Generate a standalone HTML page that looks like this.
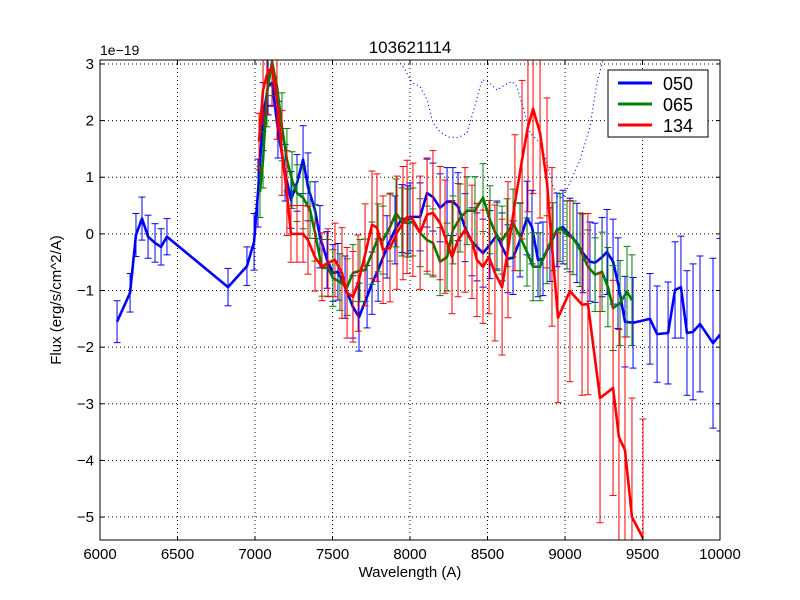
<!DOCTYPE html>
<html><head><meta charset="utf-8"><style>
html,body{margin:0;padding:0;background:#fff;width:800px;height:600px;overflow:hidden}
svg{display:block;font-family:"Liberation Sans","DejaVu Sans",sans-serif}
</style></head><body>
<svg id="chart" width="800" height="600" viewBox="0 0 800 600" xmlns="http://www.w3.org/2000/svg">
<rect x="0" y="0" width="800" height="600" fill="#fff"/>
<defs><clipPath id="plotclip"><rect x="100" y="60" width="620" height="480"/></clipPath></defs>
<g id="grid"></g>
<g id="series" clip-path="url(#plotclip)"></g>
<rect x="100" y="60" width="620" height="480" fill="none" stroke="#000" stroke-width="1"/>
<g id="axes"></g>
<text x="410" y="53" text-anchor="middle" font-size="17">103621114</text>
<text x="100" y="55" font-size="14">1e−19</text>
<text x="410" y="577" text-anchor="middle" font-size="15">Wavelength (A)</text>
<text transform="translate(61,300) rotate(-90)" text-anchor="middle" font-size="15">Flux (erg/s/cm^2/A)</text>
<g>
<rect x="608" y="70" width="100" height="67" fill="#fff" stroke="#000" stroke-width="1"/>
<line x1="618" y1="83" x2="652" y2="83" stroke="#0000ff" stroke-width="3"/>
<text x="663" y="90" font-size="18">050</text>
<line x1="618" y1="104" x2="652" y2="104" stroke="#008000" stroke-width="3"/>
<text x="663" y="111" font-size="18">065</text>
<line x1="618" y1="125" x2="652" y2="125" stroke="#ff0000" stroke-width="3"/>
<text x="663" y="132" font-size="18">134</text>
</g>
</svg>
<script>
const xTicks=[6000,6500,7000,7500,8000,8500,9000,9500,10000];
const yTicks=[3,2,1,0,-1,-2,-3,-4,-5];
const yTickLabels=["3","2","1","0","−1","−2","−3","−4","−5"];

const blueWave=[6110,6194,6232,6271,6310,6355,6394,6432,6826,6948,6994,7019,7052,7084,7110,7148,7194,7232,7271,7310,7342,7387,7419,7465,7503,7535,7581,7632,7671,7723,7755,7794,7852,7903,7948,7987,8000,8065,8110,8148,8194,8239,8277,8310,8355,8400,8432,8471,8516,8561,8594,8632,8665,8710,8755,8787,8826,8858,8903,8948,8987,9032,9077,9116,9161,9194,9239,9271,9310,9342,9387,9439,9548,9594,9665,9710,9748,9787,9826,9871,9955,10000];
const blueFlux=[-1.55,-1.04,-0.02,0.27,-0.05,-0.16,-0.23,-0.05,-0.94,-0.57,-0.14,0.72,2.07,2.6,2.67,1.84,1.08,0.6,0.9,1.31,0.83,0.42,-0.05,-0.46,-0.69,-0.67,-0.94,-1.29,-1.47,-1.11,-0.87,-0.64,-0.23,0.07,0.27,0.25,0.3,0.3,0.72,0.65,0.46,0.57,0.57,0.48,0.11,-0.14,-0.23,-0.34,-0.19,-0.02,-0.23,-0.44,-0.42,-0.11,0.28,0.12,-0.46,-0.44,-0.19,0.07,0.12,-0.02,-0.16,-0.34,-0.49,-0.51,-0.41,-0.32,-0.49,-0.87,-1.55,-1.57,-1.5,-1.77,-1.75,-0.99,-0.94,-1.75,-1.73,-1.59,-1.93,-1.78];
const blueErr=[0.37,0.34,0.38,0.38,0.38,0.34,0.32,0.32,0.33,0.34,0.5,0.6,0.6,0.5,0.4,0.5,0.5,0.5,0.5,0.6,0.6,0.5,0.55,0.5,0.5,0.5,0.55,0.55,0.6,0.55,0.55,0.55,0.55,0.6,0.6,0.6,0.6,0.6,0.6,0.6,0.6,0.6,0.6,0.6,0.6,0.6,0.6,0.6,0.6,0.6,0.6,0.6,0.65,0.65,0.65,0.65,0.65,0.65,0.65,0.65,0.65,0.65,0.7,0.7,0.7,0.7,0.7,0.75,0.75,0.8,0.8,0.8,0.8,0.85,0.9,0.85,0.9,1.1,1.2,1.2,1.5,1.7];

const greenWave=[7032,7052,7077,7110,7142,7174,7206,7239,7271,7310,7355,7387,7432,7471,7503,7548,7594,7632,7677,7710,7755,7794,7826,7871,7910,7948,7987,8019,8065,8110,8148,8194,8239,8277,8323,8368,8419,8471,8516,8561,8594,8626,8665,8710,8755,8794,8839,8884,8923,8968,9013,9052,9097,9148,9194,9239,9277,9310,9355,9400,9432];
const greenFlux=[0.74,1.31,2.49,3.04,2.6,1.89,1.31,0.95,0.72,0.64,0.42,0.02,-0.6,-0.6,-0.78,-0.85,-0.94,-0.69,-0.65,-0.64,-0.34,-0.07,-0.11,0.12,0.37,0.21,0.19,0.21,0.02,-0.11,-0.16,-0.49,-0.41,0.07,0.28,0.41,0.41,0.64,0.25,-0.05,-0.11,0.02,0.19,-0.05,-0.32,-0.58,-0.58,-0.28,-0.05,0.11,-0.02,-0.07,-0.28,-0.58,-0.72,-0.67,-0.94,-1.31,-1.22,-1.02,-1.17];
const greenErr=[0.45,0.5,0.6,0.6,0.6,0.6,0.55,0.5,0.5,0.55,0.5,0.5,0.5,0.5,0.5,0.5,0.5,0.5,0.55,0.55,0.55,0.6,0.6,0.6,0.6,0.6,0.6,0.6,0.6,0.6,0.6,0.6,0.6,0.6,0.6,0.6,0.6,0.6,0.6,0.6,0.6,0.6,0.6,0.6,0.6,0.6,0.6,0.6,0.6,0.6,0.6,0.65,0.65,0.65,0.65,0.7,0.7,0.75,0.75,0.8,0.8];

const redWave=[7026,7052,7077,7110,7142,7174,7206,7232,7271,7310,7342,7387,7432,7471,7516,7561,7594,7632,7665,7710,7755,7787,7826,7871,7916,7955,7981,8019,8065,8110,8148,8194,8226,8271,8310,8355,8400,8432,8471,8510,8548,8594,8632,8677,8723,8761,8794,8839,8884,8916,8955,9032,9110,9148,9226,9310,9348,9387,9432,9503];
const redFlux=[1.63,2.54,2.81,2.95,2.37,1.43,0.72,0,0,0,-0.11,-0.41,-0.58,-0.51,-0.46,-0.69,-1.04,-1.11,-0.87,-0.37,0.16,0.11,-0.28,-0.25,0.02,0.19,0.3,0.25,0.02,0.34,0.37,0.19,-0.05,-0.41,-0.11,0.07,-0.14,-0.46,-0.58,-0.41,-0.69,-0.94,-0.28,0.55,1.31,1.89,2.21,1.78,0.9,-0.23,-1.48,-1.01,-1.25,-1.24,-2.9,-2.72,-3.59,-3.82,-5.0,-5.37];
const redErr=[0.5,0.6,0.7,0.7,0.7,0.75,0.75,0.5,0.5,0.5,0.6,0.6,0.6,0.6,0.65,0.8,0.8,0.8,0.85,0.9,0.95,0.95,0.95,0.95,1.0,1.0,1.0,1.0,1.0,1.0,1.1,1.0,1.0,1.0,1.0,1.1,1.0,1.0,1.0,1.0,1.2,1.2,1.2,1.2,1.4,1.5,1.5,1.5,1.5,1.4,1.5,1.6,1.6,1.6,2.2,1.9,1.9,2.0,2.1,2.1];

const modelWave=[7923,7968,8013,8065,8110,8148,8194,8245,8310,8368,8406,8465,8503,8561,8613,8658,8690,8729,8774,8839,8884,8923,8955,8987,9032,9097,9161,9206,9245];
const modelFlux=[3.2,2.9,2.67,2.6,2.37,1.96,1.8,1.71,1.7,1.78,2.14,2.72,2.69,2.54,2.63,2.69,2.6,2.24,1.78,1.61,1.25,0.83,0.65,0.64,0.9,1.31,1.89,2.67,3.16];

const X0=100,X1=720,Y0=60,Y1=540,XMIN=6000,XMAX=10000,YMIN=-5.405,YMAX=3.07;
function xs(w){return X0+(w-XMIN)/(XMAX-XMIN)*(X1-X0);}
function ys(v){return Y1-(v-YMIN)/(YMAX-YMIN)*(Y1-Y0);}
function cy(y){return Math.max(Y0,Math.min(Y1,y));}
const NS="http://www.w3.org/2000/svg";
function mk(tag,attrs,parent){const e=document.createElementNS(NS,tag);for(const k in attrs)e.setAttribute(k,attrs[k]);parent.appendChild(e);return e;}
const grid=document.getElementById('grid'),axes=document.getElementById('axes'),ser=document.getElementById('series');

xTicks.forEach((t,i)=>{const x=xs(t);
 if(i>0&&i<xTicks.length-1){const g=mk('line',{x1:x,y1:Y0,x2:x,y2:Y1,stroke:'#000','stroke-width':1,'stroke-dasharray':'1,3'},grid);
 
 }
 const a=mk('line',{x1:x,y1:Y1,x2:x,y2:Y1-4,stroke:'#000'},axes);
 
 
 const b=mk('line',{x1:x,y1:Y0,x2:x,y2:Y0+4,stroke:'#000'},axes);
 
 
 const tx=mk('text',{x:x,y:Y1+19,'text-anchor':'middle','font-size':15},axes);tx.textContent=t;
 
 
});
yTicks.forEach((t,i)=>{const y=ys(t);
 const g=mk('line',{x1:X0,y1:y,x2:X1,y2:y,stroke:'#000','stroke-width':1,'stroke-dasharray':'1,3'},grid);
 
 
 const a=mk('line',{x1:X0,y1:y,x2:X0+4,y2:y,stroke:'#000'},axes);
 
 
 const b=mk('line',{x1:X1,y1:y,x2:X1-4,y2:y,stroke:'#000'},axes);
 
 
 const tx=mk('text',{x:X0-6,y:y+5,'text-anchor':'end','font-size':15},axes);tx.textContent=yTickLabels[i];
 
 
});

function drawSeries(name,wave,flux,err,color){
 const g=mk('g',{},ser);
 
 
 wave.forEach((w,i)=>{const e=err[i]!==undefined?err[i]:0.6;const x=xs(w),ya=ys(flux[i]+e),yb=ys(flux[i]-e);
  const l=mk('line',{x1:x,y1:cy(ya),x2:x,y2:cy(yb),stroke:color,'stroke-width':1},g);
  
  
  [ya,yb].forEach(yy=>{if(yy<Y0||yy>Y1)return;const c=mk('line',{x1:x-3.5,y1:yy,x2:x+3.5,y2:yy,stroke:color,'stroke-width':1},g);
   
   });
 });
 const p=mk('polyline',{points:wave.map((w,i)=>xs(w)+','+cy(ys(flux[i]))).join(' '),fill:'none',stroke:color,'stroke-width':2.6,'stroke-linejoin':'round'},g);
 
 
}
const m=mk('polyline',{points:modelWave.map((w,i)=>xs(w)+','+cy(ys(modelFlux[i]))).join(' '),fill:'none',stroke:'#0000ff','stroke-width':1.2,'stroke-dasharray':'1,3'},ser);


drawSeries('050',blueWave,blueFlux,blueErr,'#0000ff');
drawSeries('065',greenWave,greenFlux,greenErr,'#008000');
drawSeries('134',redWave,redFlux,redErr,'#ff0000');
</script>
</body></html>
